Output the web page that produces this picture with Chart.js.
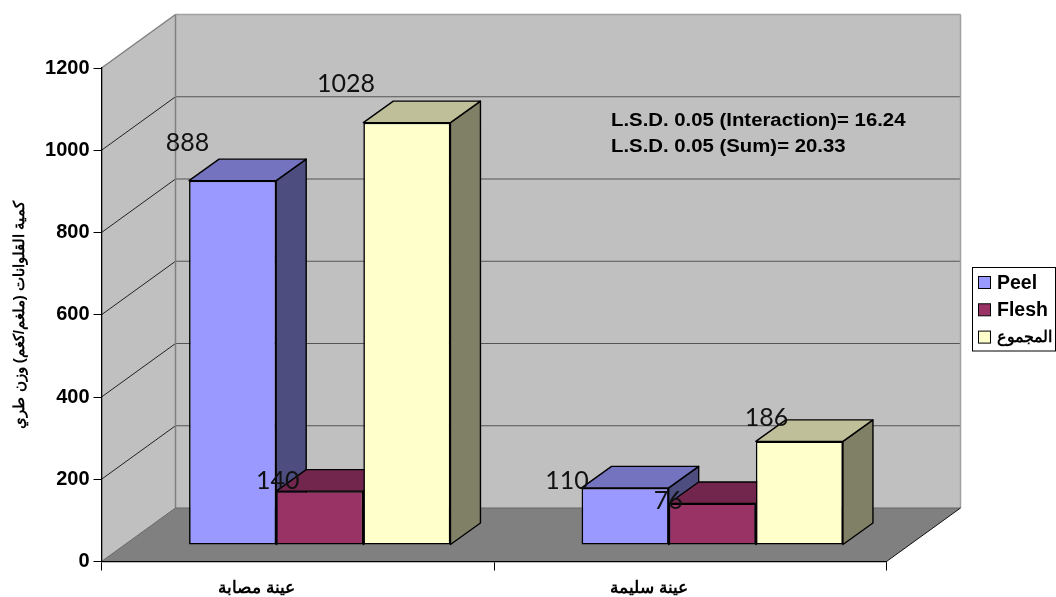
<!DOCTYPE html>
<html>
<head>
<meta charset="utf-8">
<style>html,body{margin:0;padding:0;background:#fff}canvas{display:block}</style>
<script src="https://cdn.jsdelivr.net/npm/chart.js@4"></script>
</head>
<body>
<canvas id="c" width="1056" height="597"></canvas>
<script>
const categories = ['عينة مصابة', 'عينة سليمة'];
const seriesNames = ['Peel', 'Flesh', 'المجموع'];
const peelValues = [886, 139];
const fleshValues = [131, 101];
const sumValues = [1027, 252];
const peelLabels = ['888', '110'];
const fleshLabels = ['140', '76'];
const sumLabels = ['1028', '186'];
const yTicks = [0, 200, 400, 600, 800, 1000, 1200];
const yTitle = 'كمية القلوانات (ملغم/كغم) وزن طري';
const notes = ['L.S.D. 0.05 (Interaction)= 16.24', 'L.S.D. 0.05 (Sum)= 20.33'];

const AREA = {left: 101.5, right: 886.5, top: 68, bottom: 561.5};
const WALL = {dx: 74, dy: -53.5};
const SHIFT = {dx: 22, dy: -16.5};
const BAR_DEPTH = {dx: 30, dy: -21.5};
const LABEL_OFFSETS = [[[-45,-38],[-58,-7]], [[-42,-10],[-44,-3]], [[-61,-39],[-33,-23]]];
const SHADES = [
  {front:'#9999FF', top:'#7373BF', side:'#4D4D80'},
  {front:'#993366', top:'#73264D', side:'#4D1A33'},
  {front:'#FFFFCC', top:'#BFBF99', side:'#808066'}
];
const labelSets = [peelLabels, fleshLabels, sumLabels];

function poly(ctx, pts, fill, stroke, lw) {
  ctx.beginPath();
  pts.forEach((p, i) => i ? ctx.lineTo(p[0], p[1]) : ctx.moveTo(p[0], p[1]));
  ctx.closePath();
  if (fill) { ctx.fillStyle = fill; ctx.fill(); }
  if (stroke) { ctx.strokeStyle = stroke; ctx.lineWidth = lw || 1; ctx.stroke(); }
}
function seg(ctx, x1, y1, x2, y2, c, lw) {
  ctx.beginPath(); ctx.moveTo(x1, y1); ctx.lineTo(x2, y2);
  ctx.strokeStyle = c; ctx.lineWidth = lw || 1; ctx.stroke();
}

const scene = {
  id: 'scene',
  beforeDraw(chart) {
    const ctx = chart.ctx, y = chart.scales.y, x0 = AREA.left, x1 = AREA.right;
    const b = y.getPixelForValue(0), t = y.getPixelForValue(1200);
    const d = WALL;
    ctx.save();
    ctx.fillStyle = '#fff'; ctx.fillRect(0, 0, chart.width, chart.height);
    poly(ctx, [[x0,b],[x0+d.dx,b+d.dy],[x0+d.dx,t+d.dy],[x0,t]], '#C0C0C0');
    poly(ctx, [[x0+d.dx,b+d.dy],[x1+d.dx,b+d.dy],[x1+d.dx,t+d.dy],[x0+d.dx,t+d.dy]], '#C0C0C0');
    poly(ctx, [[x0,b],[x1,b],[x1+d.dx,b+d.dy],[x0+d.dx,b+d.dy]], '#808080');
    yTicks.forEach(v => {
      const p = y.getPixelForValue(v);
      if (v === 0 || v === 1200) return;
      seg(ctx, x0, p, x0+d.dx, p+d.dy, '#222');
      seg(ctx, x0+d.dx, p+d.dy, x1+d.dx, p+d.dy, '#555');
    });
    seg(ctx, x0, t, x0+d.dx, t+d.dy, '#808080', 1.5);
    seg(ctx, x0+d.dx, t+d.dy, x1+d.dx, t+d.dy, '#A0A0A0', 1.5);
    seg(ctx, x0+d.dx, t+d.dy, x0+d.dx, b+d.dy, '#808080', 1.5);
    seg(ctx, x1+d.dx, t+d.dy, x1+d.dx, b+d.dy, '#A0A0A0', 1.5);
    seg(ctx, x0, b, x0+d.dx, b+d.dy, '#666');
    seg(ctx, x0+d.dx, b+d.dy, x1+d.dx, b+d.dy, '#666');
    seg(ctx, x1, b, x1+d.dx, b+d.dy, '#111');
    ctx.restore();
  },
  // Bars are painted left to right so each front face covers the side face of its neighbour.
  beforeDatasetsDraw(chart) {
    const ctx = chart.ctx, k = BAR_DEPTH;
    chart.data.datasets.forEach((ds, i) => {
      const s = SHADES[i];
      ctx.save();
      ctx.translate(SHIFT.dx, SHIFT.dy);
      ctx.lineJoin = 'round';
      chart.getDatasetMeta(i).data.forEach(el => {
        const l = el.x - el.width/2, r = el.x + el.width/2, t = el.y, b = el.base;
        poly(ctx, [[r,t],[r+k.dx,t+k.dy],[r+k.dx,b+k.dy],[r,b]], s.side, '#000', 1.4);
        poly(ctx, [[l,t],[r,t],[r+k.dx,t+k.dy],[l+k.dx,t+k.dy]], s.top, '#000', 1.4);
        el.draw(ctx);
      });
      ctx.restore();
    });
  },
  beforeDatasetDraw() { return false; },
  afterDraw(chart) {
    const ctx = chart.ctx;
    ctx.save();
    ctx.font = '25px Lato'; ctx.fillStyle = '#111';
    ctx.textAlign = 'center'; ctx.textBaseline = 'middle';
    chart.data.datasets.forEach((ds, i) => {
      chart.getDatasetMeta(i).data.forEach((el, j) => {
        const o = LABEL_OFFSETS[i][j];
        ctx.fillText(labelSets[i][j], el.x + SHIFT.dx + o[0], el.y + SHIFT.dy + o[1]);
      });
    });
    ctx.font = 'bold 18px "Liberation Sans"'; ctx.fillStyle = '#000';
    ctx.textAlign = 'left'; ctx.textBaseline = 'middle';
    notes.forEach((n, i) => {
      ctx.save();
      ctx.translate(611, 121 + i*26);
      ctx.scale(1.13, 1);
      ctx.fillText(n, 0, 0);
      ctx.restore();
    });
    ctx.lineWidth = 1; ctx.strokeStyle = '#000';
    ctx.fillStyle = '#fff'; ctx.fillRect(972.5, 267.5, 83, 83.5);
    ctx.strokeRect(972.5, 267.5, 83, 83.5);
    chart.data.datasets.forEach((ds, i) => {
      const cy = 282.5 + i*27.3;
      ctx.fillStyle = ds.backgroundColor; ctx.fillRect(978.5, cy-6, 12, 12);
      ctx.strokeStyle = '#000'; ctx.strokeRect(978.5, cy-6, 12, 12);
      ctx.fillStyle = '#000';
      ctx.font = (i === 2 ? 'bold 15.5px' : 'bold 19.5px') + ' "Liberation Sans"';
      ctx.textAlign = 'left';
      ctx.fillText(ds.label, 997, cy + 1);
    });
    ctx.restore();
  }
};

const mk = (i, data) => ({
  label: seriesNames[i], data,
  backgroundColor: SHADES[i].front,
  borderColor: '#000', borderWidth: 1.6, borderSkipped: false,
  categoryPercentage: 0.666, barPercentage: 1
});

new Chart(document.getElementById('c'), {
  type: 'bar',
  data: { labels: categories, datasets: [mk(0, peelValues), mk(1, fleshValues), mk(2, sumValues)] },
  options: {
    responsive: false, animation: false, devicePixelRatio: 1,
    layout: { padding: { left: 0, top: AREA.top, right: 1056 - AREA.right, bottom: 0 } },
    plugins: { legend: { display: false }, tooltip: { enabled: false } },
    scales: {
      x: {
        afterFit(s) { s.height = 597 - AREA.bottom; },
        border: { display: true, color: '#000', width: 1.3 },
        grid: { display: true, drawOnChartArea: false, offset: true, color: '#000', tickLength: 9, tickWidth: 1 },
        ticks: { labelOffset: -41.5, padding: 8, maxRotation: 0, color: '#000', font: { family: '"Liberation Sans"', size: 17, weight: 'bold' } }
      },
      y: {
        min: 0, max: 1200,
        afterFit(s) { s.width = AREA.left; },
        afterBuildTicks(s) { s.ticks = yTicks.map(v => ({value: v})); },
        border: { display: true, color: '#000', width: 1.3 },
        grid: { display: true, drawOnChartArea: false, color: '#000', tickLength: 8, tickWidth: 1 },
        ticks: { padding: 4, color: '#000', callback: v => String(v), font: { family: '"Liberation Sans"', size: 20, weight: 'bold' } },
        title: { display: true, text: yTitle, color: '#000', padding: { top: 11, bottom: 0 }, font: { family: '"Liberation Sans"', size: 15, weight: 'bold' } }
      }
    }
  },
  plugins: [scene]
});
</script>
</body>
</html>
